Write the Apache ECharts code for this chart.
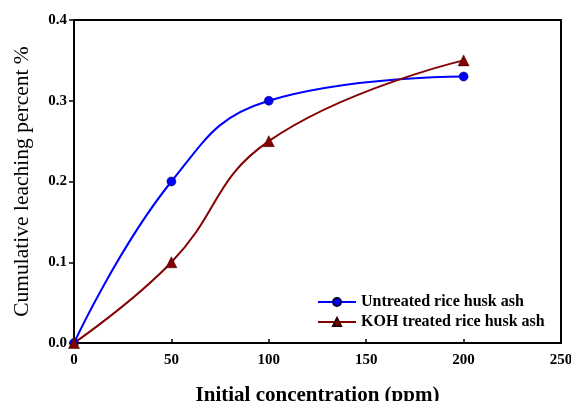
<!DOCTYPE html>
<html>
<head>
<meta charset="utf-8">
<script src="https://cdn.jsdelivr.net/npm/echarts@6/dist/echarts.min.js"></script>
<style>
  html, body { margin: 0; padding: 0; background: #fff; }
  #chart { width: 571px; height: 401px; }
</style>
</head>
<body>
<div id="chart"></div>
<script>
// Initial concentration (ppm)
const concentration = [0, 50, 100, 200];
// Cumulative leaching percent %
const untreated = [0, 0.2, 0.3, 0.33];
const kohTreated = [0, 0.1, 0.25, 0.35];
const seriesNames = ['Untreated rice husk ash', 'KOH treated rice husk ash'];

const font = 'Liberation Serif, Times New Roman, serif';
const pairs = (xs, ys) => xs.map((x, i) => [x, ys[i]]);

const chart = echarts.init(document.getElementById('chart'));
chart.setOption({
  animation: false,
  backgroundColor: '#fff',
  grid: {
    left: 74, right: 10, top: 20, bottom: 58,
    outerBoundsMode: 'none',
    containLabel: false,
    show: true, borderColor: '#000', borderWidth: 2
  },
  legend: {
    orient: 'vertical',
    left: 312, top: 289,
    itemWidth: 38, itemHeight: 10, itemGap: 4,
    textStyle: { fontFamily: font, fontWeight: 'bold', fontSize: 16, color: '#000' },
    data: seriesNames
  },
  xAxis: {
    type: 'value', min: 0, max: 250, interval: 50,
    name: 'Initial concentration (ppm)',
    nameLocation: 'middle', nameGap: 42,
    nameTextStyle: { fontFamily: font, fontWeight: 'bold', fontSize: 21, color: '#000' },
    axisLine: { lineStyle: { color: '#000', width: 2 } },
    axisTick: { inside: true, length: 4, lineStyle: { color: '#000', width: 1.5 } },
    axisLabel: { fontFamily: font, fontWeight: 'bold', fontSize: 15, color: '#000', margin: 10 },
    splitLine: { show: false }
  },
  yAxis: {
    type: 'value', min: 0, max: 0.4, interval: 0.1,
    name: 'Cumulative leaching percent %',
    nameLocation: 'middle', nameGap: 41,
    nameTextStyle: { fontFamily: font, fontWeight: 'normal', fontSize: 21.5, color: '#000' },
    axisLine: { lineStyle: { color: '#000', width: 2 } },
    axisTick: { inside: false, length: 5, lineStyle: { color: '#000', width: 1.5 } },
    axisLabel: {
      fontFamily: font, fontWeight: 'bold', fontSize: 15, color: '#000', margin: 7,
      formatter: v => v.toFixed(1)
    },
    splitLine: { show: false }
  },
  series: [
    {
      name: seriesNames[0], type: 'line', smooth: 0.45,
      data: pairs(concentration, untreated),
      symbol: 'circle', symbolSize: 9,
      itemStyle: { color: '#0000ff', borderColor: '#000033', borderWidth: 0.5 },
      lineStyle: { color: '#0000ff', width: 2 }
    },
    {
      name: seriesNames[1], type: 'line', smooth: 0.45,
      data: pairs(concentration, kohTreated),
      symbol: 'triangle', symbolSize: 11,
      itemStyle: { color: '#850000', borderColor: '#330000', borderWidth: 0.5 },
      lineStyle: { color: '#850000', width: 2 }
    }
  ]
});
</script>
</body>
</html>
